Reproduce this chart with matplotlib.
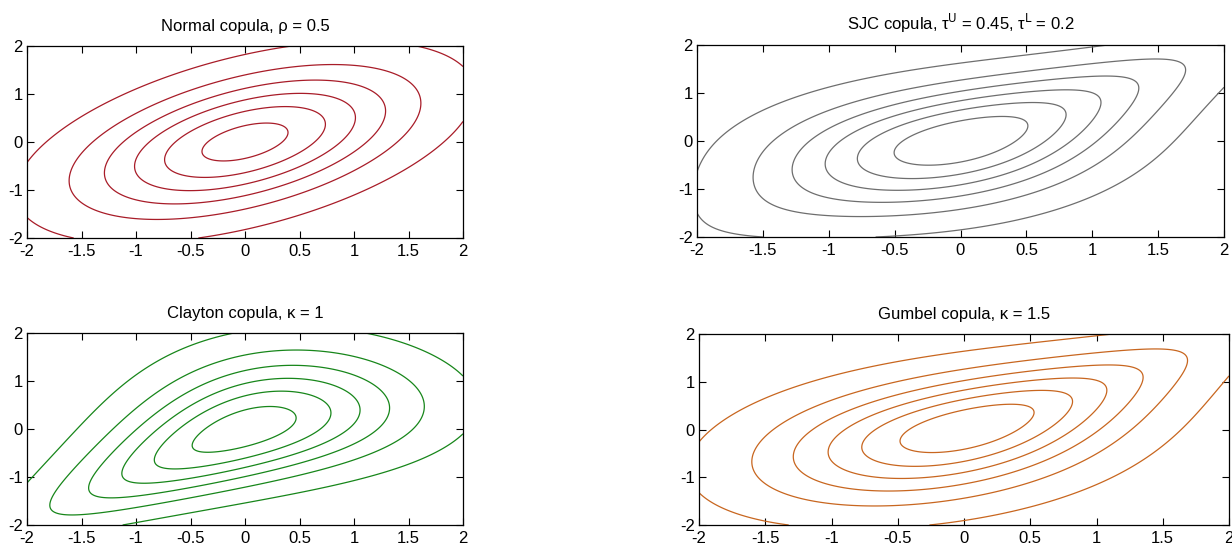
import math
import numpy as np
import matplotlib.pyplot as plt

plt.rcParams['font.family'] = ['Liberation Sans', 'DejaVu Sans']
plt.rcParams['axes.unicode_minus'] = False

# copula parameters (from the titles)
rho = 0.5
clayton_k = 1.0
gumbel_k = 1.5
sjc_tu, sjc_tl = 0.45, 0.2

# contour levels of the joint density
levels = [0.02, 0.05, 0.08, 0.11, 0.14, 0.17]

ticks_x = [-2, -1.5, -1, -0.5, 0, 0.5, 1, 1.5, 2]
ticks_y = [-2, -1, 0, 1, 2]

titles = ['Normal copula, ρ = 0.5',
          r'SJC copula, τ$^{\mathrm{U}}$ = 0.45, τ$^{\mathrm{L}}$ = 0.2',
          'Clayton copula, κ = 1',
          'Gumbel copula, κ = 1.5']
colors = ['#a81c28', '#6e6e6e', '#17861a', '#c8661f']

grid = np.linspace(-2, 2, 241)
X, Y = np.meshgrid(grid, grid)
erf = np.frompyfunc(math.erf, 1, 1)


def Phi(z):
    return 0.5 * (1 + erf(z / np.sqrt(2)).astype(float))


def phi(z):
    return np.exp(-z ** 2 / 2) / np.sqrt(2 * np.pi)


U, V = Phi(X), Phi(Y)
margins = phi(X) * phi(Y)


def density(cdf, h=1e-4):
    # copula density as mixed partial of the cdf, times normal margins
    c = (cdf(U + h, V + h) - cdf(U + h, V - h) - cdf(U - h, V + h)
         + cdf(U - h, V - h)) / (4 * h * h)
    return c * margins


def clayton(u, v):
    return (u ** -clayton_k + v ** -clayton_k - 1) ** (-1 / clayton_k)


def gumbel(u, v):
    return np.exp(-((-np.log(u)) ** gumbel_k + (-np.log(v)) ** gumbel_k) ** (1 / gumbel_k))


def joe_clayton(u, v, tu, tl):
    k = 1 / np.log2(2 - tu)
    g = -1 / np.log2(tl)
    a = (1 - (1 - u) ** k) ** (-g)
    b = (1 - (1 - v) ** k) ** (-g)
    return 1 - (1 - (a + b - 1) ** (-1 / g)) ** (1 / k)


def sjc(u, v):
    return 0.5 * (joe_clayton(u, v, sjc_tu, sjc_tl)
                  + joe_clayton(1 - u, 1 - v, sjc_tl, sjc_tu) + u + v - 1)


Q = (X ** 2 - 2 * rho * X * Y + Y ** 2) / (1 - rho ** 2)
Z_normal = np.exp(-Q / 2) / (2 * np.pi * np.sqrt(1 - rho ** 2))
surfaces = [Z_normal, density(sjc), density(clayton), density(gumbel)]

W, H = 1232, 549
fig = plt.figure(figsize=(W / 100, H / 100), dpi=100)
boxes = [(27, 46, 463, 238), (697, 45, 1224, 237),
         (27, 333, 463, 525), (699, 334, 1229, 525)]

for (x0, y0, x1, y1), Z, title, c in zip(boxes, surfaces, titles, colors):
    ax = fig.add_axes([x0 / W, 1 - y1 / H, (x1 - x0) / W, (y1 - y0) / H])
    ax.contour(X, Y, Z, levels=levels, colors=c, linewidths=0.9)
    ax.set_xlim(-2, 2)
    ax.set_ylim(-2, 2)
    ax.set_xticks(ticks_x)
    ax.set_xticklabels([f'{t:g}' for t in ticks_x])
    ax.set_yticks(ticks_y)
    ax.set_yticklabels([f'{t:g}' for t in ticks_y])
    ax.tick_params(direction='in', top=True, right=True, length=5,
                   labelsize=12, width=0.8)
    ax.tick_params(axis='x', pad=4)
    ax.tick_params(axis='y', pad=3)
    for s in ax.spines.values():
        s.set_linewidth(0.9)
    ax.set_title(title, fontsize=12, pad=11)

fig.savefig('out.png', dpi=100)
